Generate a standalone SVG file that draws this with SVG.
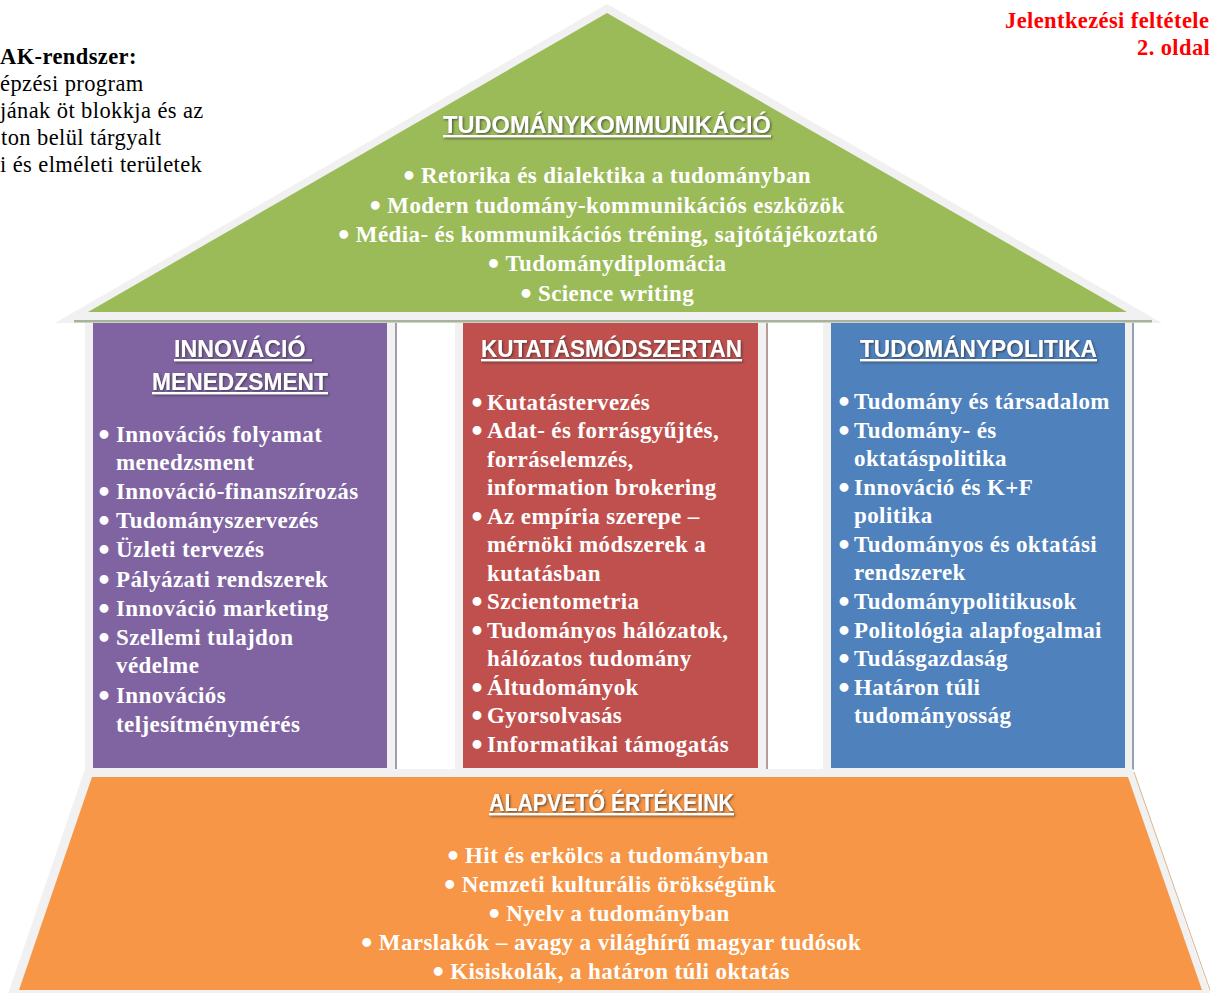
<svg xmlns="http://www.w3.org/2000/svg" width="1210" height="993" viewBox="0 0 1210 993">
<style>
.bg{fill:#ffffff}
.frame{fill:#f1f1f1}
.body{font-family:"Liberation Serif","Times New Roman",serif;font-weight:bold;font-size:23px;fill:#ffffff;letter-spacing:0.4px}
.mid{text-anchor:middle}
.bul{font-family:"DejaVu Sans",sans-serif;font-size:25px;letter-spacing:0}
.hdr{font-family:"Liberation Sans",Arial,sans-serif;font-weight:bold;font-size:23px;fill:#ffffff;text-decoration:underline}
.note{font-family:"Liberation Serif","Times New Roman",serif;font-size:22.5px;fill:#000000;letter-spacing:0.4px}
.red{font-family:"Liberation Serif","Times New Roman",serif;font-weight:bold;font-size:22.5px;fill:#ff0000;letter-spacing:0.4px}
</style>
<defs>
<filter id="sh" x="-10%" y="-30%" width="120%" height="160%">
<feDropShadow dx="1.2" dy="1.2" stdDeviation="0.8" flood-color="#303030" flood-opacity="0.75"/>
</filter>
</defs>
<rect class="bg" x="0" y="0" width="1210" height="993"/>

<g id="page-notes">
<text class="note" x="0" y="64" font-weight="bold">AK-rendszer:</text>
<text class="note" x="0" y="91">épzési program</text>
<text class="note" x="0" y="118">jának öt blokkja és az</text>
<text class="note" x="1" y="145">ton belül tárgyalt</text>
<text class="note" x="0" y="172">i és elméleti területek</text>
<text class="red" x="1005" y="28">Jelentkezési feltétele</text>
<text class="red" x="1137" y="55">2. oldal</text>
</g>

<g id="connectors"></g>

<g id="pillar-innovacio">
<rect class="frame" x="85" y="315" width="310" height="461"/>
<rect x="395" y="318" width="2" height="452" fill="#a29cae"/>
<rect x="93" y="318" width="294" height="450" fill="#8064a2"/>
<text class="hdr" x="174" y="357" textLength="138" lengthAdjust="spacingAndGlyphs" filter="url(#sh)">INNOVÁCIÓ&#160;</text>
<text class="hdr" x="152" y="390" textLength="176" lengthAdjust="spacingAndGlyphs" filter="url(#sh)">MENEDZSMENT</text>
<g class="body">
<g class="bul">
<text x="96" y="444">•</text>
<text x="96" y="501">•</text>
<text x="96" y="530">•</text>
<text x="96" y="559">•</text>
<text x="96" y="589">•</text>
<text x="96" y="618">•</text>
<text x="96" y="647">•</text>
<text x="96" y="705">•</text>
</g>
<text x="116" y="442">Innovációs folyamat</text>
<text x="116" y="470">menedzsment</text>
<text x="116" y="499">Innováció-finanszírozás</text>
<text x="116" y="528">Tudományszervezés</text>
<text x="116" y="557">Üzleti tervezés</text>
<text x="116" y="587">Pályázati rendszerek</text>
<text x="116" y="616">Innováció marketing</text>
<text x="116" y="645">Szellemi tulajdon</text>
<text x="116" y="673">védelme</text>
<text x="116" y="703">Innovációs</text>
<text x="116" y="732">teljesítménymérés</text>
</g>
</g>

<g id="pillar-kutatas">
<rect class="frame" x="455" y="315" width="311" height="461"/>
<rect x="766" y="318" width="2" height="452" fill="#b79a9a"/>
<rect x="463" y="318" width="295" height="450" fill="#c0504d"/>
<text class="hdr" x="481" y="357" textLength="261" lengthAdjust="spacingAndGlyphs" filter="url(#sh)">KUTATÁSMÓDSZERTAN</text>
<g class="body">
<g class="bul">
<text x="469" y="412">•</text>
<text x="469" y="440">•</text>
<text x="469" y="526">•</text>
<text x="469" y="611">•</text>
<text x="469" y="640">•</text>
<text x="469" y="697">•</text>
<text x="469" y="725">•</text>
<text x="469" y="754">•</text>
</g>
<text x="487" y="410">Kutatástervezés</text>
<text x="487" y="438">Adat- és forrásgyűjtés,</text>
<text x="487" y="467">forráselemzés,</text>
<text x="487" y="495">information brokering</text>
<text x="487" y="524">Az empíria szerepe –</text>
<text x="487" y="552">mérnöki módszerek a</text>
<text x="487" y="581">kutatásban</text>
<text x="487" y="609">Szcientometria</text>
<text x="487" y="638">Tudományos hálózatok,</text>
<text x="487" y="666">hálózatos tudomány</text>
<text x="487" y="695">Áltudományok</text>
<text x="487" y="723">Gyorsolvasás</text>
<text x="487" y="752">Informatikai támogatás</text>
</g>
</g>

<g id="pillar-tudomanypolitika">
<rect class="frame" x="823" y="315" width="309" height="461"/>
<rect x="1132" y="318" width="2" height="452" fill="#94a2b6"/>
<rect x="831" y="318" width="294" height="450" fill="#4f81bd"/>
<text class="hdr" x="860" y="357" textLength="237" lengthAdjust="spacingAndGlyphs" filter="url(#sh)">TUDOMÁNYPOLITIKA</text>
<g class="body">
<g class="bul">
<text x="836" y="411">•</text>
<text x="836" y="440">•</text>
<text x="836" y="497">•</text>
<text x="836" y="554">•</text>
<text x="836" y="611">•</text>
<text x="836" y="640">•</text>
<text x="836" y="668">•</text>
<text x="836" y="697">•</text>
</g>
<text x="854" y="409">Tudomány és társadalom</text>
<text x="854" y="438">Tudomány- és</text>
<text x="854" y="466">oktatáspolitika</text>
<text x="854" y="495">Innováció és K+F</text>
<text x="854" y="523">politika</text>
<text x="854" y="552">Tudományos és oktatási</text>
<text x="854" y="580">rendszerek</text>
<text x="854" y="609">Tudománypolitikusok</text>
<text x="854" y="638">Politológia alapfogalmai</text>
<text x="854" y="666">Tudásgazdaság</text>
<text x="854" y="695">Határon túli</text>
<text x="854" y="723">tudományosság</text>
</g>
</g>

<g id="roof-tudomanykommunikacio">
<polygon class="frame" points="607,4 55,323 1162,323"/>
<rect x="74" y="320" width="1078" height="2.5" fill="#a9b39c"/>
<polygon points="607,13 88,312 1127,312" fill="#9bbb59"/>
<text class="hdr" x="443" y="133" textLength="328" lengthAdjust="spacingAndGlyphs" filter="url(#sh)">TUDOMÁNYKOMMUNIKÁCIÓ</text>
<g class="body mid">
<text x="606" y="183"><tspan class="bul" dy="2">•</tspan><tspan dy="-2" dx="4">Retorika és dialektika a tudományban</tspan></text>
<text x="606" y="213"><tspan class="bul" dy="2">•</tspan><tspan dy="-2" dx="4">Modern tudomány-kommunikációs eszközök</tspan></text>
<text x="607" y="242"><tspan class="bul" dy="2">•</tspan><tspan dy="-2" dx="4">Média- és kommunikációs tréning, sajtótájékoztató</tspan></text>
<text x="606" y="271"><tspan class="bul" dy="2">•</tspan><tspan dy="-2" dx="4">Tudománydiplomácia</tspan></text>
<text x="606" y="301"><tspan class="bul" dy="2">•</tspan><tspan dy="-2" dx="4">Science writing</tspan></text>
</g>
</g>

<g id="base-alapveto-ertekeink">
<polygon class="frame" points="85,769 1133,769 1210,994 8,994"/>
<line x1="1134" y1="772" x2="1211" y2="993" stroke="#d8b48e" stroke-width="1"/>
<polygon points="92,777 1128,777 1202,990 19,990" fill="#f79646"/>
<text class="hdr" x="489" y="811" textLength="245" lengthAdjust="spacingAndGlyphs" filter="url(#sh)">ALAPVETŐ ÉRTÉKEINK</text>
<g class="body mid">
<text x="607" y="863"><tspan class="bul" dy="2">•</tspan><tspan dy="-2" dx="4">Hit és erkölcs a tudományban</tspan></text>
<text x="609" y="892"><tspan class="bul" dy="2">•</tspan><tspan dy="-2" dx="4">Nemzeti kulturális örökségünk</tspan></text>
<text x="608" y="921"><tspan class="bul" dy="2">•</tspan><tspan dy="-2" dx="4">Nyelv a tudományban</tspan></text>
<text x="610" y="950"><tspan class="bul" dy="2">•</tspan><tspan dy="-2" dx="4">Marslakók – avagy a világhírű magyar tudósok</tspan></text>
<text x="610" y="979"><tspan class="bul" dy="2">•</tspan><tspan dy="-2" dx="4">Kisiskolák, a határon túli oktatás</tspan></text>
</g>
</g>
</svg>
